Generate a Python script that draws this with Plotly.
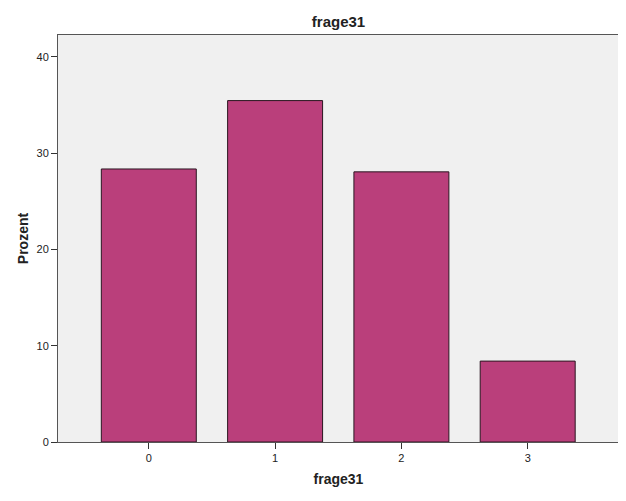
import plotly.graph_objects as go

categories = ["0", "1", "2", "3"]
category_pos = [0, 1, 2, 3]
percent = [28.35, 35.45, 28.05, 8.4]
y_ticks = [0, 10, 20, 30, 40]

fig = go.Figure()
fig.add_trace(go.Bar(
    x=category_pos,
    y=percent,
    width=0.752,
    marker=dict(color="#BA3F7B", line=dict(color="#2A1620", width=1)),
    hoverinfo="skip",
))

# page body adds an 8px offset; compensate in figure size/margins
W, H = 618, 493
font_family = "Liberation Sans, Arial, sans-serif"
fig.update_layout(
    width=W,
    height=H,
    margin=dict(l=50, r=7, t=27, b=59),
    paper_bgcolor="white",
    plot_bgcolor="#F0F0F0",
    showlegend=False,
    font=dict(family=font_family, size=11, color="#222222"),
    title=dict(
        text="<b>frage31</b>",
        xref="paper", x=0.5, xanchor="center",
        yref="container", y=1 - 14 / H, yanchor="middle",
        font=dict(size=15, color="#222222", family=font_family),
    ),
)
fig.update_xaxes(
    range=[-0.719, 3.723],
    tickmode="array",
    tickvals=category_pos,
    ticktext=categories,
    ticks="outside", ticklen=6, tickcolor="#333333", tickwidth=1,
    showline=True, linecolor="#555555", linewidth=1, mirror=True,
    showgrid=False, zeroline=False, automargin=False,
    title=dict(text="<b>frage31</b>", font=dict(size=14, family=font_family, color="#222222"), standoff=10),
    tickfont=dict(size=11, color="#222222"),
)
fig.update_yaxes(
    range=[0, 42.26],
    tickmode="array",
    tickvals=y_ticks,
    ticks="outside", ticklen=6, tickcolor="#333333", tickwidth=1,
    showline=True, linecolor="#555555", linewidth=1, mirror=True,
    showgrid=False, zeroline=False, automargin=False,
    title=dict(text="<b>Prozent</b>", font=dict(size=14, family=font_family, color="#222222"), standoff=4),
    tickfont=dict(size=11, color="#222222"),
)

fig.write_html("out.html")
